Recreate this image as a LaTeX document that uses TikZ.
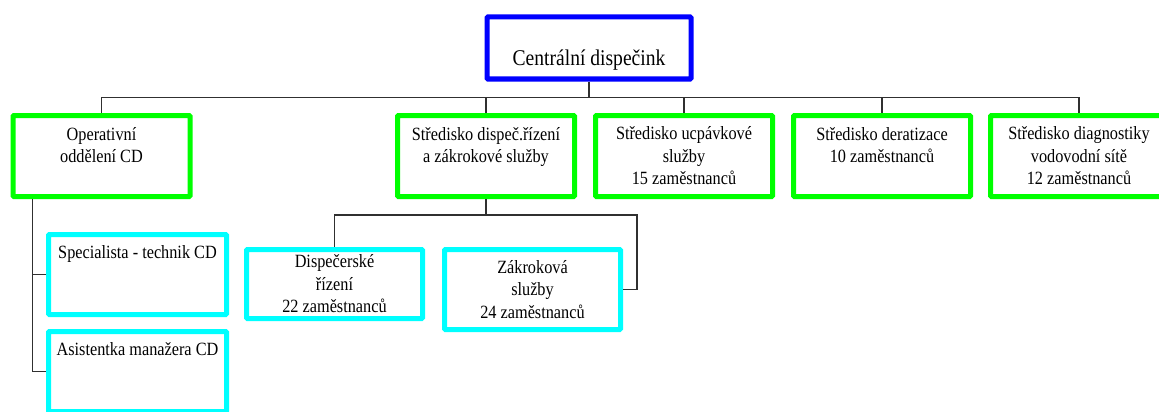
\documentclass[tikz,border=0pt]{standalone}
\usepackage{fontspec}
\setmainfont{Liberation Serif}[FakeStretch=0.87]
\usetikzlibrary{positioning}
\definecolor{CDBlue}{HTML}{0000FF}
\definecolor{CDGreen}{HTML}{00FF00}
\definecolor{CDCyan}{HTML}{00FFFF}
\definecolor{CDLine}{HTML}{303030}

\begin{document}
\begin{tikzpicture}[x=1pt,y=1pt,node distance=16pt,
  box/.style={draw=#1,line width=5pt,fill=white,rounded corners=1pt,align=center,font=\fontsize{18.7}{22.5}\selectfont},
  hd/.style={box=CDBlue,minimum width=204pt,minimum height=62pt,font=\fontsize{22.5}{27}\selectfont,text height=36pt,text depth=0pt},
  grp/.style={box=CDGreen,minimum width=177pt,minimum height=81pt},
  sub/.style={box=CDCyan,minimum width=178pt,minimum height=80pt},
  ln/.style={draw=CDLine,line width=1.3pt}]
\useasboundingbox (0,0) rectangle (1159,-412);
\clip (0,0) rectangle (1159,-412);
\node[hd] (cd) at (589,-48) {Centrální dispečink};
\node[grp] (op) at (101.5,-156) {Operativní\\oddělení CD\\\mbox{}};
\node[grp] (sdr) at (486,-156) {Středisko dispeč.řízení\\a zákrokové služby\\\mbox{}};
\node[grp,right=of sdr] (ucp) {Středisko ucpávkové\\služby\\15 zaměstnanců};
\node[grp,right=of ucp] (der) {Středisko deratizace\\10 zaměstnanců\\\mbox{}};
\node[grp,right=15pt of der] (dia) {Středisko diagnostiky\\vodovodní sítě\\12 zaměstnanců};
\node[sub] (spec) at (137.5,-274.5) {Specialista - technik CD\\\mbox{}\\\mbox{}};
\node[sub,below=12pt of spec] (asis) {Asistentka manažera CD\\\mbox{}\\\mbox{}};
\node[sub,minimum width=176pt,minimum height=69pt] (disp) at (334.5,-284) {Dispečerské\\řízení\\22 zaměstnanců};
\node[sub,minimum width=176pt] (zak) at (532.5,-289.5) {Zákroková\\služby\\24 zaměstnanců};
% spojnice
\draw[ln] (cd.south) -- ++(0,-16) coordinate (bus);
\foreach \n in {op,sdr,ucp,der,dia} \draw[ln] (bus) -| (\n.north);
\draw[ln] ([xshift=22pt]op.south west) |- (spec.west);
\draw[ln] ([xshift=22pt]op.south west) |- (asis.west);
\draw[ln] (sdr.south) -- ++(0,-16) coordinate (sb) -| (disp.north);
\draw[ln] (sb) -| ([xshift=14pt]zak.east) -- (zak.east);
\end{tikzpicture}
\end{document}
